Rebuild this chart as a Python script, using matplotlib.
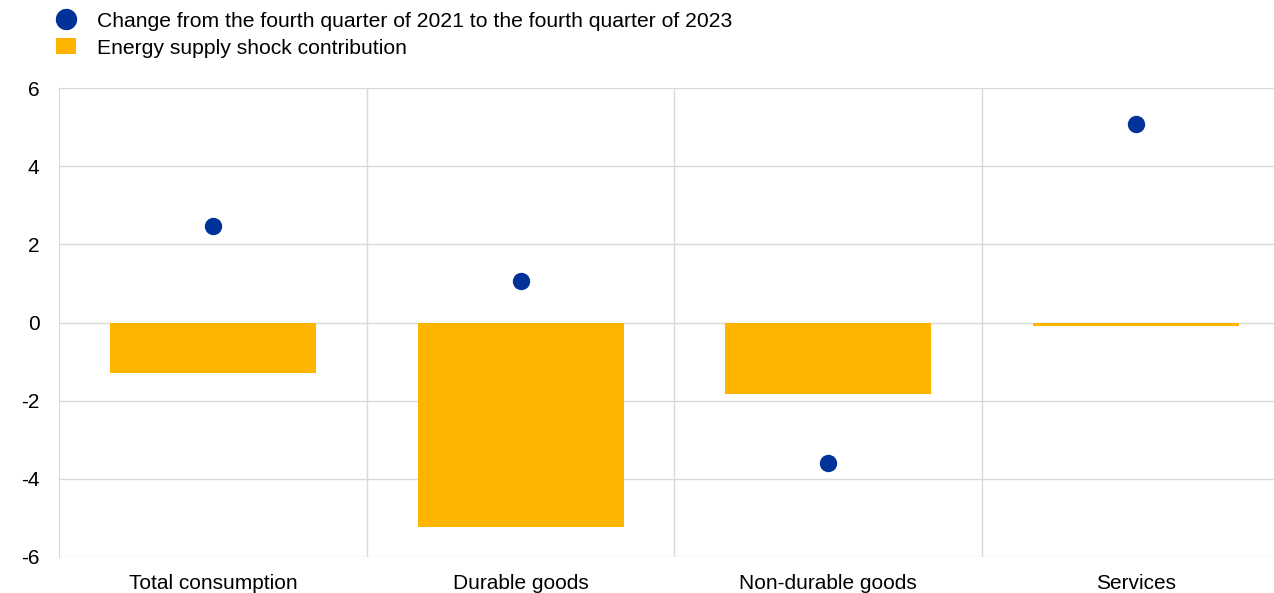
import numpy as np
import matplotlib.pyplot as plt

categories = ['Total consumption', 'Durable goods', 'Non-durable goods', 'Services']
change_2021_2023 = [2.46, 1.07, -3.6, 5.09]
energy_shock = [-1.28, -5.24, -1.84, -0.1]
yticks = [-6, -4, -2, 0, 2, 4, 6]

blue = '#003299'
yellow = '#FFB400'
grid_col = '#d9d9d9'

plt.rcParams['font.family'] = ['Liberation Sans', 'DejaVu Sans']
plt.rcParams['axes.unicode_minus'] = False

fig = plt.figure(figsize=(12.74, 5.93), dpi=100)
# plot area runs past the right edge of the picture, as in the original
ax = fig.add_axes([59 / 1274, 1 - 557 / 593, (1290 - 59) / 1274, (557 - 88) / 593])

x = np.arange(len(categories))
bars = ax.bar(x, energy_shock, width=0.67, color=yellow, zorder=2,
              label='Energy supply shock contribution')
dots, = ax.plot(x, change_2021_2023, 'o', color=blue, markersize=11.5, zorder=3,
                label='Change from the fourth quarter of 2021 to the fourth quarter of 2023')

ax.set_xlim(-0.5, 3.5)
ax.set_ylim(-6, 6)
ax.set_yticks(yticks)
ax.set_xticks(x)
ax.set_xticklabels(categories)
ax.tick_params(axis='both', length=0, labelsize=15, colors='black')
ax.tick_params(axis='y', pad=14)
ax.tick_params(axis='x', pad=12)

ax.grid(axis='y', color=grid_col, linewidth=1, zorder=1)
for b in [0.5, 1.5, 2.5]:
    ax.axvline(b, color=grid_col, linewidth=1, zorder=1)
for side in ['top', 'right', 'bottom']:
    ax.spines[side].set_visible(False)
ax.spines['left'].set_color(grid_col)

leg = fig.legend(handles=[dots, bars], loc='upper left', bbox_to_anchor=(0.0375, 0.995),
                 frameon=False, fontsize=15.2, handlelength=0.95, handleheight=0.8,
                 handletextpad=1.0, labelspacing=0.35, borderaxespad=0, markerscale=1.25)

fig.savefig('out.png', dpi=100)
